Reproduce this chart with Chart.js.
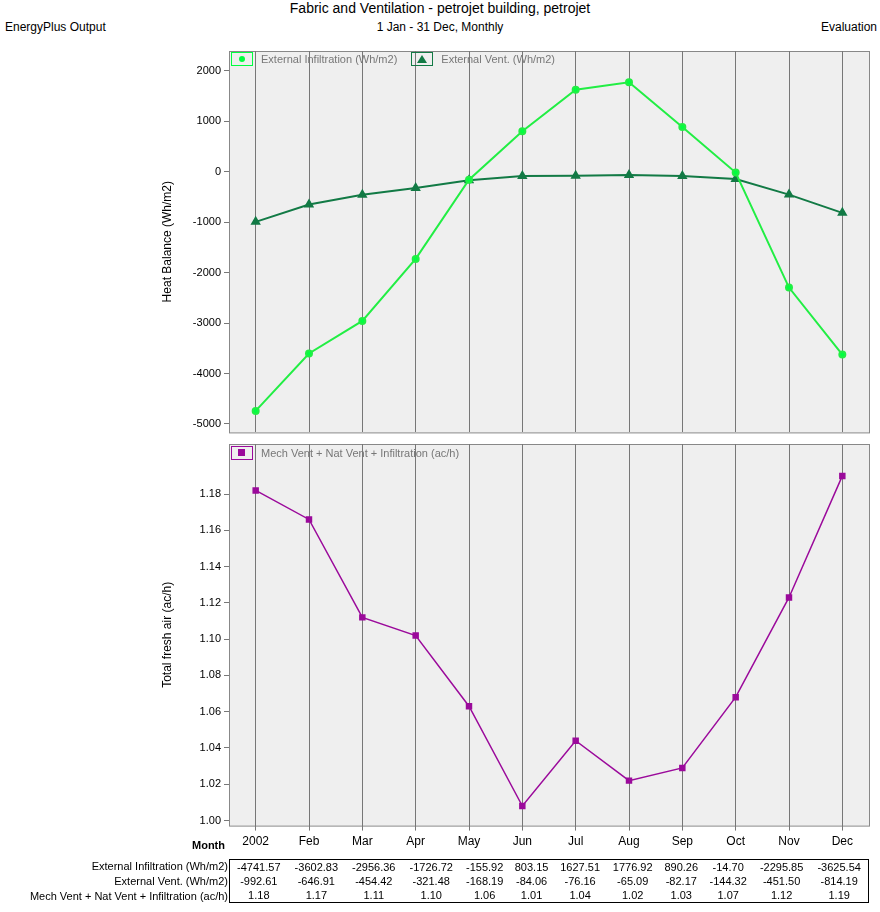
<!DOCTYPE html>
<html><head><meta charset="utf-8">
<script src="https://cdn.jsdelivr.net/npm/chart.js@4/dist/chart.umd.min.js"></script>
<style>
body{margin:0;background:#fff;font-family:"Liberation Sans",Arial,sans-serif;font-size:12px;color:#000}
#wrap{position:relative;width:880px;height:912px}
.abs{position:absolute;white-space:nowrap}
.leg{position:absolute;font-size:11px;color:#777;display:flex;align-items:center}
.leg span.b{display:inline-block;width:20px;height:12px;border:1px solid;margin-right:8px;position:relative}
table{position:absolute;left:229px;top:859px;width:640px;border:1px solid #000;border-collapse:collapse;font-size:11px}
td{text-align:center;padding:0;height:14px;line-height:14px}
.rl{position:absolute;right:652px;font-size:11px;text-align:right}
</style></head><body>
<div id="wrap">
  <div class="abs" style="left:0;width:880px;text-align:center;top:0;font-size:14px">Fabric and Ventilation - petrojet building, petrojet</div>
  <div class="abs" style="left:0;width:880px;text-align:center;top:20px;font-size:12px">1 Jan - 31 Dec, Monthly</div>
  <div class="abs" style="left:5px;top:20px">EnergyPlus Output</div>
  <div class="abs" style="right:3px;top:20px">Evaluation</div>
  <canvas id="c1" class="abs" style="left:0;top:40px" width="880" height="402"></canvas>
  <canvas id="c2" class="abs" style="left:0;top:434px" width="880" height="419"></canvas>
  <div class="leg" style="left:231px;top:52px"><span class="b" style="border-color:#00ff40"><i style="position:absolute;left:7px;top:3px;width:6px;height:6px;border-radius:3px;background:#00ff40"></i></span>External Infiltration (Wh/m2)<span class="b" style="border-color:#127a45;margin-left:14px"><i style="position:absolute;left:5px;top:2px;width:0;height:0;border-left:5px solid transparent;border-right:5px solid transparent;border-bottom:8px solid #127a45"></i></span>External Vent. (Wh/m2)</div>
  <div class="leg" style="left:231px;top:446px"><span class="b" style="border-color:#9b0a9b"><i style="position:absolute;left:6px;top:2px;width:7px;height:7px;background:#9b0a9b"></i></span>Mech Vent + Nat Vent + Infiltration (ac/h)</div>
  <div class="abs" style="left:192px;top:839px;font-weight:bold;font-size:11px">Month</div>
  <div class="rl" style="top:860px">External Infiltration (Wh/m2)</div>
  <div class="rl" style="top:875px">External Vent. (Wh/m2)</div>
  <div class="rl" style="top:890px">Mech Vent + Nat Vent + Infiltration (ac/h)</div>
  <table id="tbl"></table>
</div>
<script>
const months = ["2002","Feb","Mar","Apr","May","Jun","Jul","Aug","Sep","Oct","Nov","Dec"];
const extInfil = [-4741.57,-3602.83,-2956.36,-1726.72,-155.92,803.15,1627.51,1776.92,890.26,-14.70,-2295.85,-3625.54];
const extVent = [-992.61,-646.91,-454.42,-321.48,-168.19,-84.06,-76.16,-65.09,-82.17,-144.32,-451.50,-814.19];
const freshAir = [1.182,1.166,1.112,1.102,1.063,1.008,1.044,1.022,1.029,1.068,1.123,1.190];
const freshAirTable = ["1.18","1.17","1.11","1.10","1.06","1.01","1.04","1.02","1.03","1.07","1.12","1.19"];
const heatTicks = [-5000,-4000,-3000,-2000,-1000,0,1000,2000];
const airTicks = [1.00,1.02,1.04,1.06,1.08,1.10,1.12,1.14,1.16,1.18];

// table
const tbl = document.getElementById("tbl");
[extInfil.map(v => v.toFixed(2)), extVent.map(v => v.toFixed(2)), freshAirTable].forEach(row => {
  const tr = document.createElement("tr");
  row.forEach(v => { const td = document.createElement("td"); td.textContent = v; tr.appendChild(td); });
  tbl.appendChild(tr);
});

const bgPlugin = {
  id: "bg",
  beforeDraw(c) {
    const a = c.chartArea, ctx = c.ctx;
    ctx.save();
    ctx.fillStyle = "#efefef";
    ctx.fillRect(a.left, a.top, a.right - a.left, a.bottom - a.top);
    ctx.strokeStyle = "#888";
    ctx.strokeRect(a.left + 0.5, a.top + 0.5, a.right - a.left, a.bottom - a.top);
    ctx.restore();
  }
};
Chart.defaults.font.family = "'Liberation Sans', Arial, sans-serif";
Chart.defaults.font.size = 11;
Chart.defaults.color = "#000";

function xAxis(show) {
  return {
    offset: true,
    grid: { color: "#777", offset: false, drawTicks: show, tickLength: 5 },
    border: { display: false },
    ticks: { display: show, padding: 4, font: { size: 12 }, maxRotation: 0, autoSkip: false }
  };
}
function yAxis(min, max, tickVals, title, fmt) {
  return {
    min, max,
    afterFit(s) { s.width = 69; },
    afterBuildTicks(s) { s.ticks = tickVals.map(v => ({ value: v })); },
    grid: { display: true, drawOnChartArea: false, color: "#777", tickLength: 5 },
    border: { display: false },
    ticks: { callback: fmt, padding: 3 },
    title: { display: true, text: title, font: { size: 12 }, padding: 0 }
  };
}

new Chart(document.getElementById("c1"), {
  type: "line",
  data: { labels: months, datasets: [
    { data: extInfil, borderColor: "#22ee44", backgroundColor: "#00ff40", borderWidth: 2, pointStyle: "circle", pointRadius: 3, tension: 0 },
    { data: extVent, borderColor: "#127a45", backgroundColor: "#127a45", borderWidth: 2, pointStyle: "triangle", pointRadius: 4, tension: 0 }
  ]},
  options: {
    responsive: false, animation: false, devicePixelRatio: 1,
    layout: { padding: { top: 11, right: 11, bottom: 0, left: 160 } },
    plugins: { legend: { display: false }, tooltip: { enabled: false } },
    scales: {
      x: xAxis(false),
      y: yAxis(-5168, 2396, heatTicks, "Heat Balance (Wh/m2)", v => v)
    }
  },
  plugins: [bgPlugin]
});

new Chart(document.getElementById("c2"), {
  type: "line",
  data: { labels: months, datasets: [
    { data: freshAir, borderColor: "#9b0a9b", backgroundColor: "#9b0a9b", borderWidth: 1.5, pointStyle: "rect", pointRadius: 3.5, tension: 0 }
  ]},
  options: {
    responsive: false, animation: false, devicePixelRatio: 1,
    layout: { padding: { top: 10, right: 11, bottom: 0, left: 160 } },
    plugins: { legend: { display: false }, tooltip: { enabled: false } },
    scales: {
      x: xAxis(true),
      y: yAxis(0.9972, 1.2076, airTicks, "Total fresh air (ac/h)", v => v.toFixed(2))
    }
  },
  plugins: [bgPlugin]
});
</script>
</body></html>
